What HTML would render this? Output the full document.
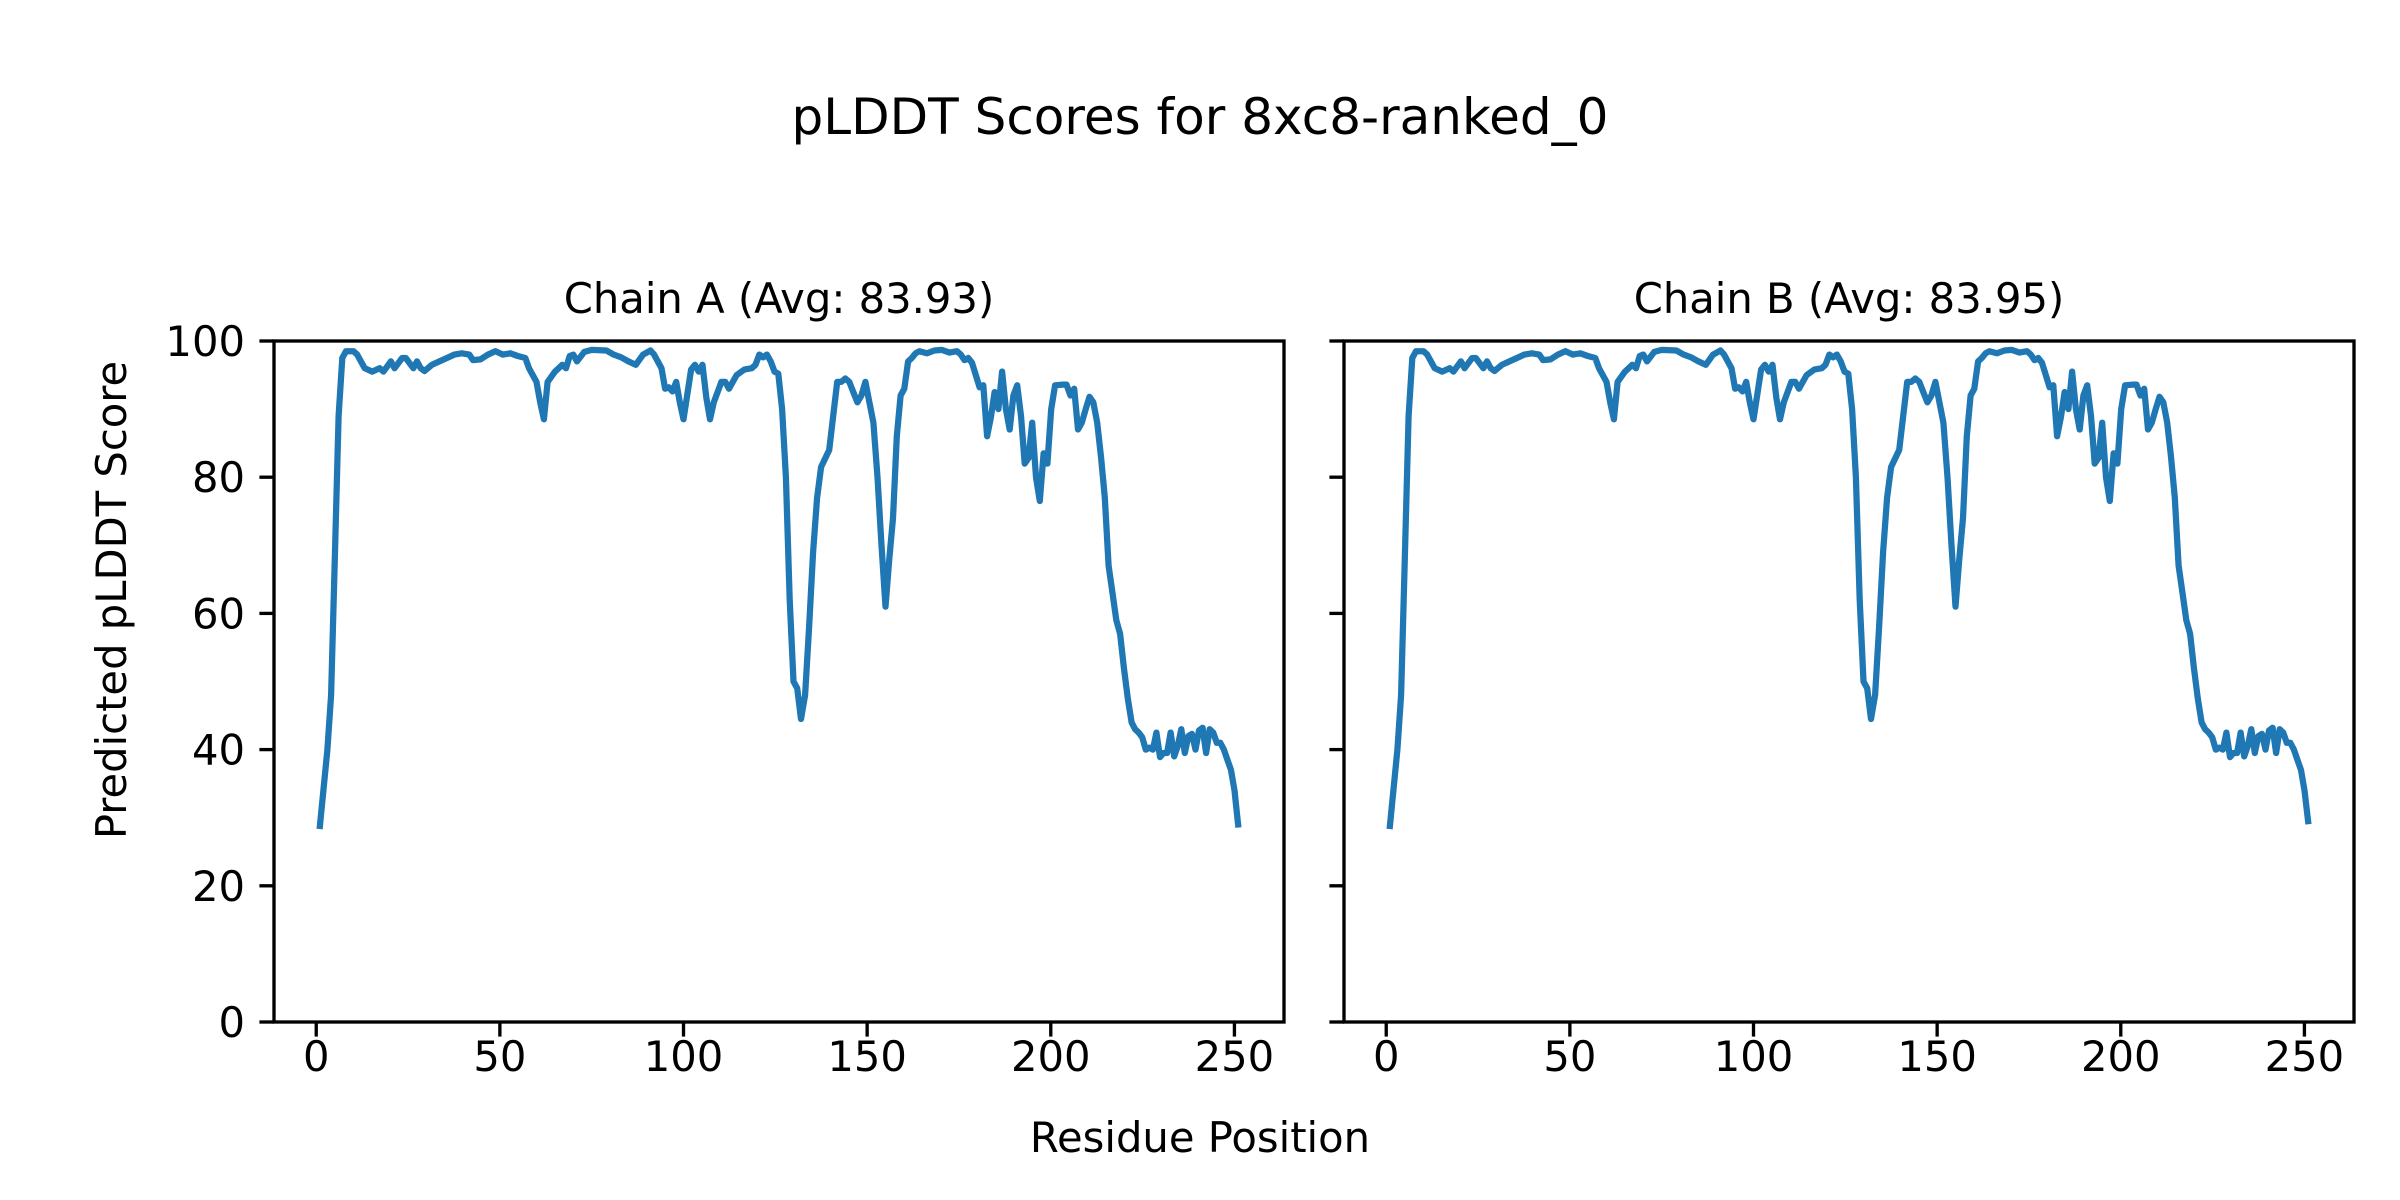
<!DOCTYPE html>
<html><head><meta charset="utf-8"><style>
html,body{margin:0;padding:0;background:#fff;}
svg{display:block;font-family:"DejaVu Sans","Liberation Sans",sans-serif;}
</style></head><body>
<svg id="s" width="2400" height="1200" viewBox="0 0 2400 1200" xmlns="http://www.w3.org/2000/svg">
<rect width="2400" height="1200" fill="#fff"/>
<text x="1200" y="134" font-size="50" text-anchor="middle">pLDDT Scores for 8xc8-ranked_0</text>
<text x="779" y="313" font-size="41.7" text-anchor="middle">Chain A (Avg: 83.93)</text>
<text x="1849" y="313" font-size="41.7" text-anchor="middle">Chain B (Avg: 83.95)</text>
<text x="1200" y="1152" font-size="41.7" text-anchor="middle">Residue Position</text>
<text x="0" y="0" font-size="41.7" text-anchor="middle" transform="translate(126,600) rotate(-90)">Predicted pLDDT Score</text>
<g id="g"></g>
</svg>
<script>
(function(){
var pts=[[1,28.8],[3,40],[4,48],[5,68],[6,89],[7,97.5],[8,98.5],[10,98.5],[11,98],[13,96],[15,95.5],[17,96],[18,95.5],[20,97],[21,96],[23,97.5],[24,97.5],[26,96],[27,97],[28,96],[29,95.6],[31,96.5],[33,97],[35,97.5],[37,98],[39,98.2],[41,98],[42,97.2],[44,97.3],[46,98],[48,98.5],[50,98],[52,98.2],[54,97.8],[56,97.5],[57,96],[59,94],[60,91],[61,88.5],[62,94],[64,95.5],[66,96.5],[67,96],[68,97.8],[69,98],[70,97],[72,98.4],[74,98.7],[78,98.6],[80,98],[82,97.6],[84,97],[86,96.5],[88,98],[90,98.6],[91,98],[93,96],[94,93],[95,93.2],[96,92.6],[97,94],[98,91],[99,88.5],[101,95.8],[102,96.5],[103,95.5],[104,96.5],[105,91.7],[106,88.5],[107,91],[109,94],[110,94],[111,93],[113,95],[115,95.8],[117,96],[118,96.5],[119,98],[120,97.6],[121,98],[122,97],[123,95.5],[124,95.2],[125,90],[126,80],[127,62],[128,50],[129,49],[130,44.5],[131,48],[132,58],[133,69],[134,77],[135,81.5],[137,84],[138,89],[139,94],[140,94],[141,94.5],[142,94],[143,92.5],[144,91],[145,92],[146,94],[147,91],[148,88],[149,80],[150,70],[151,61],[152,68],[153,74],[154,86],[155,92],[156,93],[157,97],[158,97.5],[159,98.2],[160,98.5],[162,98.2],[164,98.6],[166,98.7],[168,98.3],[170,98.5],[171,98],[172,97.2],[173,97.5],[174,96.8],[175,95],[176,93.2],[177,93.5],[178,86],[179,88.8],[180,92.5],[181,90],[182,95.5],[183,90],[184,87],[185,92],[186,93.5],[187,89],[188,82],[189,82.8],[190,88],[191,80],[192,76.5],[193,83.5],[194,82],[195,90],[196,93.5],[198,93.6],[199,93.6],[200,92],[201,93],[202,87],[203,88],[204,90],[205,91.8],[206,91],[207,88],[208,83],[209,77],[210,67],[211,63],[212,59],[213,57],[214,52],[215,47.5],[216,44],[217,43],[218,42.5],[219,41.8],[220,40],[221,40.3],[222,40],[223,42.5],[224,38.9],[225,39.5],[226,39.5],[227,42.5],[228,39],[229,40.5],[230,43],[231,39.5],[232,42],[233,42.3],[234,40],[235,42.8],[236,43.2],[237,39.5],[238,43],[239,42.5],[240,41],[241,41],[242,40],[243,38.5],[244,37],[245,34],[246,29]];
var anc=[[1,1],[61,62],[99,100],[130,132],[151,155],[192,197],[216,222],[246,251]];
function mapr(r){for(var i=0;i<anc.length-1;i++){var a=anc[i],b=anc[i+1];if(r<=b[0]){return a[1]+(r-a[0])*(b[1]-a[1])/(b[0]-a[0]);}}return anc[anc.length-1][1];}
var g=document.getElementById('g');var NS='http://www.w3.org/2000/svg';
function el(t,at,txt){var e=document.createElementNS(NS,t);for(var k in at)e.setAttribute(k,at[k]);if(txt)e.textContent=txt;g.appendChild(e);return e;}
var T=341,B=1022,W=1010;
[274,1344].forEach(function(L,pi){
  var sx=function(v){return L+(v+11.5)*W/275;};
  var sy=function(v){return B-(v/100)*(B-T);};
  var d='';
  pts.forEach(function(p,i){var v=p[1];if(pi==1&&i==pts.length-1)v=29.5;d+=(i?'L':'M')+sx(mapr(p[0])).toFixed(1)+' '+sy(v).toFixed(1);});
  el('path',{d:d,fill:'none',stroke:'#1f77b4','stroke-width':6.25,'stroke-linejoin':'round','stroke-linecap':'square'});
  el('rect',{x:L,y:T,width:W,height:B-T,fill:'none',stroke:'#000','stroke-width':3.33});
  for(var v=0;v<=250;v+=50){var x=sx(v);el('line',{x1:x,y1:B,x2:x,y2:B+14.6,stroke:'#000','stroke-width':3.33});el('text',{x:x,y:1071,'font-size':41.7,'text-anchor':'middle'},String(v));}
  for(var v=0;v<=100;v+=20){var y=sy(v);el('line',{x1:L,y1:y,x2:L-14.6,y2:y,stroke:'#000','stroke-width':3.33});if(pi==0)el('text',{x:L-29,y:y+15,'font-size':41.7,'text-anchor':'end'},String(v));}
});
})();
</script>
</body></html>
